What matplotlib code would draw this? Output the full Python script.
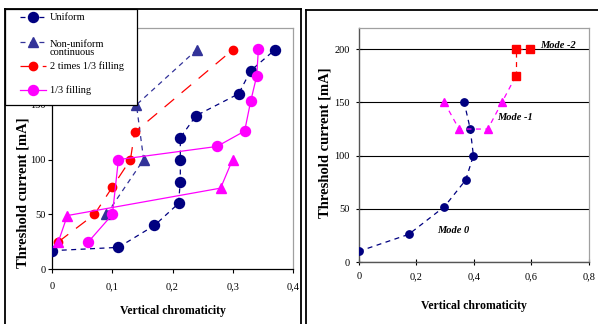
import matplotlib
matplotlib.use("Agg")
import matplotlib.pyplot as plt
from matplotlib.lines import Line2D
from matplotlib.patches import Rectangle
from matplotlib.ticker import FuncFormatter

plt.rcParams['font.family'] = ['Liberation Serif', 'DejaVu Serif']
plt.rcParams['lines.scale_dashes'] = False

# ---------------- data: left chart ----------------
uniform_x = [0, 0.11, 0.17, 0.21, 0.213, 0.213, 0.213, 0.239, 0.31, 0.33, 0.37]
uniform_y = [17, 20, 40, 60, 80, 100, 120, 140, 160, 181, 200]

nonuni_x = [0.09, 0.152, 0.14, 0.24]
nonuni_y = [50, 100, 150, 200]

twothird_x = [0.01, 0.07, 0.10, 0.13, 0.137, 0.30]
twothird_y = [25, 50, 75, 100, 125, 200]

third_x = [0.06, 0.10, 0.11, 0.274, 0.32, 0.33, 0.34, 0.343]
third_y = [25, 50, 100, 112, 126, 153, 176, 201]

third_tri_x = [0.01, 0.025, 0.28, 0.30]
third_tri_y = [25, 49, 74, 100]

legend_labels = ["Uniform", "Non-uniform\ncontinuous", "2 times 1/3 filling", "1/3 filling"]

# ---------------- data: right chart ----------------
mode0_x = [0, 0.174, 0.298, 0.372, 0.399, 0.388, 0.367]
mode0_y = [10, 26, 52, 77, 100, 125, 150]

mode1_x = [0.298, 0.349, 0.449, 0.498, 0.547]
mode1_y = [150, 125, 125, 150, 175]

mode2_x = [0.547, 0.547, 0.596]
mode2_y = [175, 200, 200]

mode_labels = ["Mode 0", "Mode -1", "Mode -2"]
mode_label_x = [0.272, 0.481, 0.63]
mode_label_y = [30, 136, 204]

left_xticks = [0, 0.1, 0.2, 0.3, 0.4]
right_xticks = [0, 0.2, 0.4, 0.6, 0.8]
yticks = [0, 50, 100, 150, 200]

W, H = 598, 324
fig = plt.figure(figsize=(W / 100, H / 100), dpi=100)

def fx(px):
    return px / W

def fy(py):
    return 1 - py / H

NAVY = '#000080'
NONU = '#333399'
RED = '#FF0000'
MAG = '#FF00FF'
GRAY = '#A0A0A0'

DASH_SHORT = (3.6, 3.2)
DASH_LONG = (9, 7)

comma = FuncFormatter(lambda v, p: ('%g' % v).replace('.', ','))

# ---------------- left axes ----------------
axL = fig.add_axes([fx(52.3), fy(269.3), fx(292.7) - fx(52.3), fy(28) - fy(269.3)])
msL = 7.2
series_style = [
    (NAVY, DASH_SHORT, 'o', msL),
    (NONU, DASH_SHORT, '^', msL),
    (RED, DASH_LONG, 'o', 6.0),
    (MAG, None, 'o', msL),
]
series_data = [(uniform_x, uniform_y), (nonuni_x, nonuni_y),
               (twothird_x, twothird_y), (third_x, third_y)]
for (c, d, m, ms), (xs, ys) in zip(series_style, series_data):
    kw = dict(color=c, lw=0.9, marker=m, ms=ms, mec=c, mfc=c, zorder=3)
    if d is not None:
        kw['dashes'] = d
    axL.plot(xs, ys, **kw)
axL.plot(third_tri_x, third_tri_y, color=MAG, lw=0.9, ls='-',
         marker='^', ms=msL, mec=MAG, mfc=MAG, zorder=3)

axL.set_xlim(0, 0.4)
axL.set_ylim(0, 220)
axL.set_xticks(left_xticks)
axL.set_yticks(yticks)
axL.xaxis.set_major_formatter(comma)
axL.tick_params(direction='out', length=3, width=0.8, labelsize=7.5, pad=6, colors='black')
axL.tick_params(axis='y', pad=2)
for s in ['left', 'bottom']:
    axL.spines[s].set_color('black')
    axL.spines[s].set_linewidth(0.9)
for s in ['top', 'right']:
    axL.spines[s].set_color(GRAY)
    axL.spines[s].set_linewidth(0.9)

fig.text(fx(173), fy(311), 'Vertical chromaticity', ha='center', va='center',
         fontsize=8.5, fontweight='bold')
fig.text(fx(23), fy(193), 'Threshold current [mA]', ha='center', va='center',
         rotation=90, fontsize=10.5, fontweight='bold')

# ---------------- right axes ----------------
axR = fig.add_axes([fx(358.7), fy(262), fx(588.7) - fx(358.7), fy(28) - fy(262)])
axR.plot(mode0_x, mode0_y, color=NAVY, lw=0.9, dashes=DASH_SHORT,
         marker='o', ms=5.3, mec=NAVY, mfc=NAVY, zorder=3)
axR.plot(mode1_x, mode1_y, color=MAG, lw=0.9, dashes=DASH_SHORT,
         marker='^', ms=5.8, mec=MAG, mfc=MAG, markevery=[0, 1, 2, 3], zorder=3)
axR.plot(mode2_x, mode2_y, color=RED, lw=0.9, dashes=DASH_SHORT,
         marker='s', ms=5.3, mec=RED, mfc=RED, zorder=3)
for lab, x, y in zip(mode_labels, mode_label_x, mode_label_y):
    axR.text(x, y, lab, ha='left', va='center', fontsize=7.5,
             fontweight='bold', fontstyle='italic', zorder=4)

axR.set_xlim(0, 0.8)
axR.set_ylim(0, 220)
axR.set_xticks(right_xticks)
axR.set_yticks(yticks)
axR.xaxis.set_major_formatter(comma)
axR.yaxis.grid(True, color='black', lw=0.8)
axR.set_axisbelow(True)
axR.tick_params(direction='inout', length=5, width=0.8, labelsize=7.5, colors='black')
axR.tick_params(axis='x', pad=5)
axR.tick_params(axis='y', pad=4)
for s in ['left', 'bottom']:
    axR.spines[s].set_color('#555555')
    axR.spines[s].set_linewidth(1.0)
for s in ['top', 'right']:
    axR.spines[s].set_color(GRAY)
    axR.spines[s].set_linewidth(0.9)

fig.text(fx(474), fy(306), 'Vertical chromaticity', ha='center', va='center',
         fontsize=8.5, fontweight='bold')
fig.text(fx(325), fy(143), 'Threshold current [mA]', ha='center', va='center',
         rotation=90, fontsize=10.5, fontweight='bold')

# ---------------- outer frames ----------------
frame_kw = dict(color='black', lw=1.3, transform=fig.transFigure, zorder=10)
fig.add_artist(Line2D([fx(5), fx(5)], [fy(9), 0], **frame_kw))
fig.add_artist(Line2D([fx(5), fx(301)], [fy(9), fy(9)], **frame_kw))
fig.add_artist(Line2D([fx(301), fx(301)], [fy(9), 0], **frame_kw))
fig.add_artist(Line2D([fx(306), fx(306)], [fy(10), 0], **frame_kw))
fig.add_artist(Line2D([fx(306), 1], [fy(10), fy(10)], **frame_kw))

# ---------------- legend (left chart) ----------------
fig.add_artist(Rectangle((fx(5), fy(105)), fx(137) - fx(5), fy(9) - fy(105),
                         transform=fig.transFigure, facecolor='white',
                         edgecolor='black', lw=0.9, zorder=11))
hy = [17, 42, 66, 90]
ty = [17, 48.5, 66, 90]
for (c, d, m, ms), lab, y, t in zip(series_style, legend_labels, hy, ty):
    kw = dict(color=c, lw=0.9, transform=fig.transFigure, zorder=12)
    if d is not None:
        kw['dashes'] = d
    fig.add_artist(Line2D([fx(20), fx(46)], [fy(y), fy(y)], **kw))
    fig.add_artist(Line2D([fx(33)], [fy(y)], color=c, marker=m, ms=ms, mfc=c, mec=c,
                          ls='none', transform=fig.transFigure, zorder=13))
    fig.text(fx(50), fy(t), lab, ha='left', va='center', fontsize=7.5,
             linespacing=0.95, zorder=13)

fig.savefig('out.png', dpi=100)
